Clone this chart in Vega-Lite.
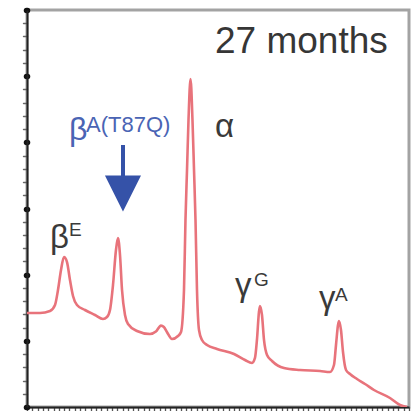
{
  "$schema": "https://vega.github.io/schema/vega-lite/v6.json",
  "width": 382,
  "height": 397,
  "autosize": "none",
  "padding": {"left": 27, "top": 10, "right": 5, "bottom": 4},
  "background": "white",
  "config": {
    "view": {"stroke": "#a3a3a3", "strokeWidth": 3},
    "text": {"font": "Liberation Sans", "align": "left", "baseline": "alphabetic"}
  },
  "datasets": {
    "trace": [
      {"t": 0, "v": 14.21}, {"t": 2.45, "v": 14.21}, {"t": 4.34, "v": 14.51}, {"t": 5.28, "v": 15.42},
      {"t": 5.84, "v": 17.68}, {"t": 6.41, "v": 20.71}, {"t": 6.97, "v": 22.67}, {"t": 7.54, "v": 21.91},
      {"t": 8.10, "v": 19.19}, {"t": 8.67, "v": 16.78}, {"t": 9.42, "v": 15.42}, {"t": 10.93, "v": 14.66},
      {"t": 12.82, "v": 13.90}, {"t": 14.32, "v": 13.30}, {"t": 15.08, "v": 13.60}, {"t": 15.64, "v": 14.66},
      {"t": 16.21, "v": 18.44}, {"t": 16.77, "v": 23.73}, {"t": 17.15, "v": 25.54}, {"t": 17.53, "v": 22.97},
      {"t": 17.91, "v": 17.68}, {"t": 18.47, "v": 13.90}, {"t": 19.04, "v": 12.54}, {"t": 20.73, "v": 11.49},
      {"t": 23.18, "v": 11.03}, {"t": 24.30, "v": 11.40}, {"t": 25.25, "v": 12.30}, {"t": 25.80, "v": 12.10},
      {"t": 26.40, "v": 11.30}, {"t": 27.33, "v": 10.28}, {"t": 28.46, "v": 10.73}, {"t": 29.03, "v": 11.34}, {"t": 29.59, "v": 17.68},
      {"t": 29.87, "v": 28.26}, {"t": 30.16, "v": 35.82}, {"t": 30.44, "v": 43.37}, {"t": 30.82, "v": 49.57},
      {"t": 31.19, "v": 43.37}, {"t": 31.48, "v": 35.82}, {"t": 31.76, "v": 28.26}, {"t": 32.04, "v": 17.68},
      {"t": 32.42, "v": 11.64}, {"t": 32.98, "v": 10.13}, {"t": 33.93, "v": 9.37}, {"t": 35.81, "v": 8.77},
      {"t": 39.02, "v": 8.01}, {"t": 41.09, "v": 7.10}, {"t": 42.41, "v": 6.65}, {"t": 42.97, "v": 7.41},
      {"t": 43.34, "v": 10.13}, {"t": 43.72, "v": 14.36}, {"t": 43.91, "v": 15.26}, {"t": 44.29, "v": 13.90},
      {"t": 44.67, "v": 10.13}, {"t": 45.24, "v": 7.86}, {"t": 46.18, "v": 6.95}, {"t": 48.44, "v": 5.89},
      {"t": 51.46, "v": 5.59}, {"t": 55.23, "v": 5.44}, {"t": 57.11, "v": 5.29}, {"t": 57.86, "v": 6.35},
      {"t": 58.24, "v": 9.37}, {"t": 58.62, "v": 12.39}, {"t": 58.81, "v": 13.00}, {"t": 59.18, "v": 11.64},
      {"t": 59.56, "v": 8.31}, {"t": 60.13, "v": 5.59}, {"t": 60.88, "v": 4.99}, {"t": 62.20, "v": 4.23},
      {"t": 63.71, "v": 3.48}, {"t": 65.40, "v": 2.57}, {"t": 68.42, "v": 1.36}, {"t": 70.30, "v": 0.30},
      {"t": 71.62, "v": 0}
    ],
    "labels": [
      {"text": "27 months", "t": 35.43, "v": 53.5, "kind": "title"},
      {"text": "α", "t": 35.43, "v": 40.81, "kind": "symbol"},
      {"text": "β", "t": 4.34, "v": 24.03, "kind": "symbol"},
      {"text": "E", "t": 7.92, "v": 25.84, "kind": "sup"},
      {"text": "γ", "t": 39.2, "v": 16.78, "kind": "symbol"},
      {"text": "G", "t": 42.79, "v": 18.29, "kind": "sup"},
      {"text": "γ", "t": 55.04, "v": 14.81, "kind": "symbol"},
      {"text": "A", "t": 58.05, "v": 16.02, "kind": "sup"},
      {"text": "β", "t": 7.92, "v": 40.35, "kind": "mutSymbol"},
      {"text": "A(T87Q)", "t": 11.12, "v": 41.56, "kind": "mutSup"}
    ],
    "arrow": [
      {"t": 18.09, "v": 39.6, "v2": 34.0, "tip": 32.27}
    ]
  },
  "layer": [
    {
      "data": {"name": "trace"},
      "mark": {"type": "line", "color": "#e8737b", "strokeWidth": 2.6, "interpolate": "monotone", "clip": true},
      "encoding": {
        "x": {
          "field": "t", "type": "quantitative",
          "scale": {"domain": [0, 72], "nice": false, "zero": false},
          "axis": {
            "title": null, "labels": false, "grid": false, "tickCount": 200,
            "values": [0,1,2,3,4,5,6,7,8,9,10,11,12,13,14,15,16,17,18,19,20,21,22,23,24,25,26,27,28,29,30,31,32,33,34,35,36,37,38,39,40,41,42,43,44,45,46,47,48,49,50,51,52,53,54,55,56,57,58,59,60,61,62,63,64,65,66,67,68,69,70,71,72],
            "domainColor": "#222", "domainWidth": 2,
            "tickColor": "#555", "tickSize": 4, "tickWidth": 1.3
          }
        },
        "y": {
          "field": "v", "type": "quantitative",
          "scale": {"domain": [0, 60], "nice": false, "zero": false},
          "axis": {
            "title": null, "labels": false, "grid": false, "tickCount": 200,
            "values": [0,2,4,6,8,10,12,14,16,18,20,22,24,26,28,30,32,34,36,38,40,42,44,46,48,50,52,54,56,58,60],
            "domainColor": "#222", "domainWidth": 2,
            "tickCap": "round",
            "tickColor": {"condition": {"test": "datum.value % 10 === 0", "value": "#111"}, "value": "#666"},
            "tickSize": {"condition": {"test": "datum.value % 10 === 0", "value": 1}, "value": 4},
            "tickWidth": {"condition": {"test": "datum.value % 10 === 0", "value": 5.5}, "value": 1.4}
          }
        }
      }
    },
    {
      "data": {"name": "labels"},
      "transform": [{"filter": "datum.kind === 'title'"}],
      "mark": {"type": "text", "fontSize": 37, "color": "#363636"},
      "encoding": {"x": {"field": "t", "type": "quantitative"}, "y": {"field": "v", "type": "quantitative"}, "text": {"field": "text"}}
    },
    {
      "data": {"name": "labels"},
      "transform": [{"filter": "datum.kind === 'symbol'"}],
      "mark": {"type": "text", "fontSize": 33, "color": "#3a3a3a"},
      "encoding": {"x": {"field": "t", "type": "quantitative"}, "y": {"field": "v", "type": "quantitative"}, "text": {"field": "text"}}
    },
    {
      "data": {"name": "labels"},
      "transform": [{"filter": "datum.kind === 'sup'"}],
      "mark": {"type": "text", "fontSize": 19, "color": "#3a3a3a"},
      "encoding": {"x": {"field": "t", "type": "quantitative"}, "y": {"field": "v", "type": "quantitative"}, "text": {"field": "text"}}
    },
    {
      "data": {"name": "labels"},
      "transform": [{"filter": "datum.kind === 'mutSymbol'"}],
      "mark": {"type": "text", "fontSize": 32, "color": "#4a64b4"},
      "encoding": {"x": {"field": "t", "type": "quantitative"}, "y": {"field": "v", "type": "quantitative"}, "text": {"field": "text"}}
    },
    {
      "data": {"name": "labels"},
      "transform": [{"filter": "datum.kind === 'mutSup'"}],
      "mark": {"type": "text", "fontSize": 22, "color": "#4a64b4"},
      "encoding": {"x": {"field": "t", "type": "quantitative"}, "y": {"field": "v", "type": "quantitative"}, "text": {"field": "text"}}
    },
    {
      "data": {"name": "arrow"},
      "mark": {"type": "rule", "color": "#3552a8", "strokeWidth": 4},
      "encoding": {"x": {"field": "t", "type": "quantitative"}, "y": {"field": "v", "type": "quantitative"}, "y2": {"field": "v2"}}
    },
    {
      "data": {"name": "arrow"},
      "mark": {"type": "point", "shape": "M-1,-1L1,-1L0,1Z", "filled": true, "color": "#3552a8", "opacity": 1, "size": 1300},
      "encoding": {"x": {"field": "t", "type": "quantitative"}, "y": {"field": "tip", "type": "quantitative"}}
    }
  ]
}
